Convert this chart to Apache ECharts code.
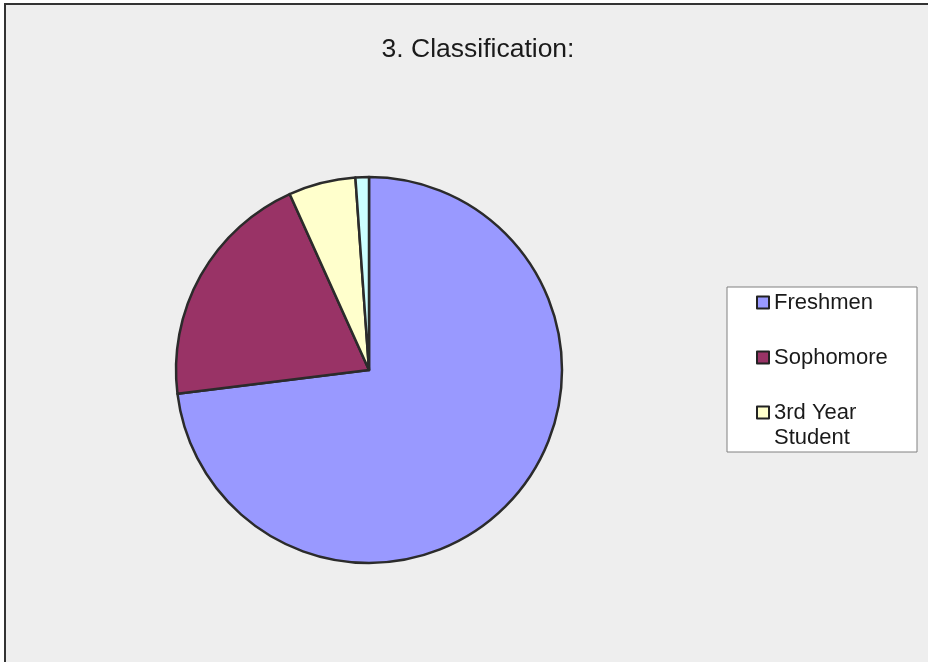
<!DOCTYPE html>
<html>
<head>
<meta charset="utf-8">
<script src="https://cdn.jsdelivr.net/npm/echarts@6/dist/echarts.min.js"></script>
<style>
  html, body { margin: 0; padding: 0; background: #ffffff; overflow: hidden; }
  #chart { width: 928px; height: 662px; }
</style>
</head>
<body>
<div id="chart"></div>
<script>
// Student classification breakdown (counts)
const categories = ['Freshmen', 'Sophomore', '3rd Year Student', 'Other'];
const counts = [65, 18, 5, 1];
const sliceColors = ['#9999ff', '#993366', '#ffffcc', '#ccffff'];
const legendNames = ['Freshmen', 'Sophomore', '3rd Year Student'];
const titleText = '3. Classification:';

const pieData = categories.map((name, i) => ({
  name: name,
  value: counts[i],
  itemStyle: { color: sliceColors[i] }
}));

// One legend block per entry so each swatch lines up with its first text line
const legendTops = [290, 345, 375];
const legends = legendNames.map((name, i) => ({
  data: [name],
  orient: 'vertical',
  left: 756,
  top: legendTops[i],
  padding: 0,
  itemWidth: 12,
  itemHeight: 12,
  icon: 'rect',
  selectedMode: false,
  itemStyle: { borderColor: '#222222', borderWidth: 2 },
  // leading blank line keeps the swatch beside "3rd Year" for the wrapped label
  formatter: n => n === '3rd Year Student' ? ' \n3rd Year\nStudent' : n,
  textStyle: {
    fontFamily: 'Liberation Sans, Arial, sans-serif',
    fontSize: 22,
    color: '#1a1a1a',
    lineHeight: 25
  }
}));

const chart = echarts.init(document.getElementById('chart'), null, { renderer: 'canvas' });
chart.setOption({
  animation: false,
  backgroundColor: '#eeeeee',
  graphic: [
    {
      type: 'polyline',
      z: -9,
      shape: { points: [[5, 700], [5, 4], [928, 4]] },
      style: { fill: null, stroke: '#333333', lineWidth: 2 }
    },
    {
      type: 'rect',
      z: -10,
      shape: { x: 0, y: 0, width: 928, height: 4 },
      style: { fill: '#ffffff' }
    },
    {
      type: 'rect',
      z: -10,
      shape: { x: 0, y: 0, width: 5, height: 662 },
      style: { fill: '#ffffff' }
    },
    {
      type: 'rect',
      z: -5,
      shape: { x: 727, y: 287, width: 190, height: 165 },
      style: { fill: '#ffffff', stroke: '#808080', lineWidth: 1 }
    }
  ],
  title: {
    text: titleText,
    left: 473,
    top: 31,
    textAlign: 'center',
    textStyle: {
      fontFamily: 'Liberation Sans, Arial, sans-serif',
      fontSize: 26.5,
      fontWeight: 'normal',
      color: '#1a1a1a'
    }
  },
  legend: legends,
  series: [{
    type: 'pie',
    center: [369, 370],
    radius: 193,
    startAngle: 90,
    clockwise: true,
    label: { show: false },
    labelLine: { show: false },
    emphasis: { disabled: true },
    itemStyle: { borderColor: '#2b2b2b', borderWidth: 2.5 },
    data: pieData
  }]
});
</script>
</body>
</html>
